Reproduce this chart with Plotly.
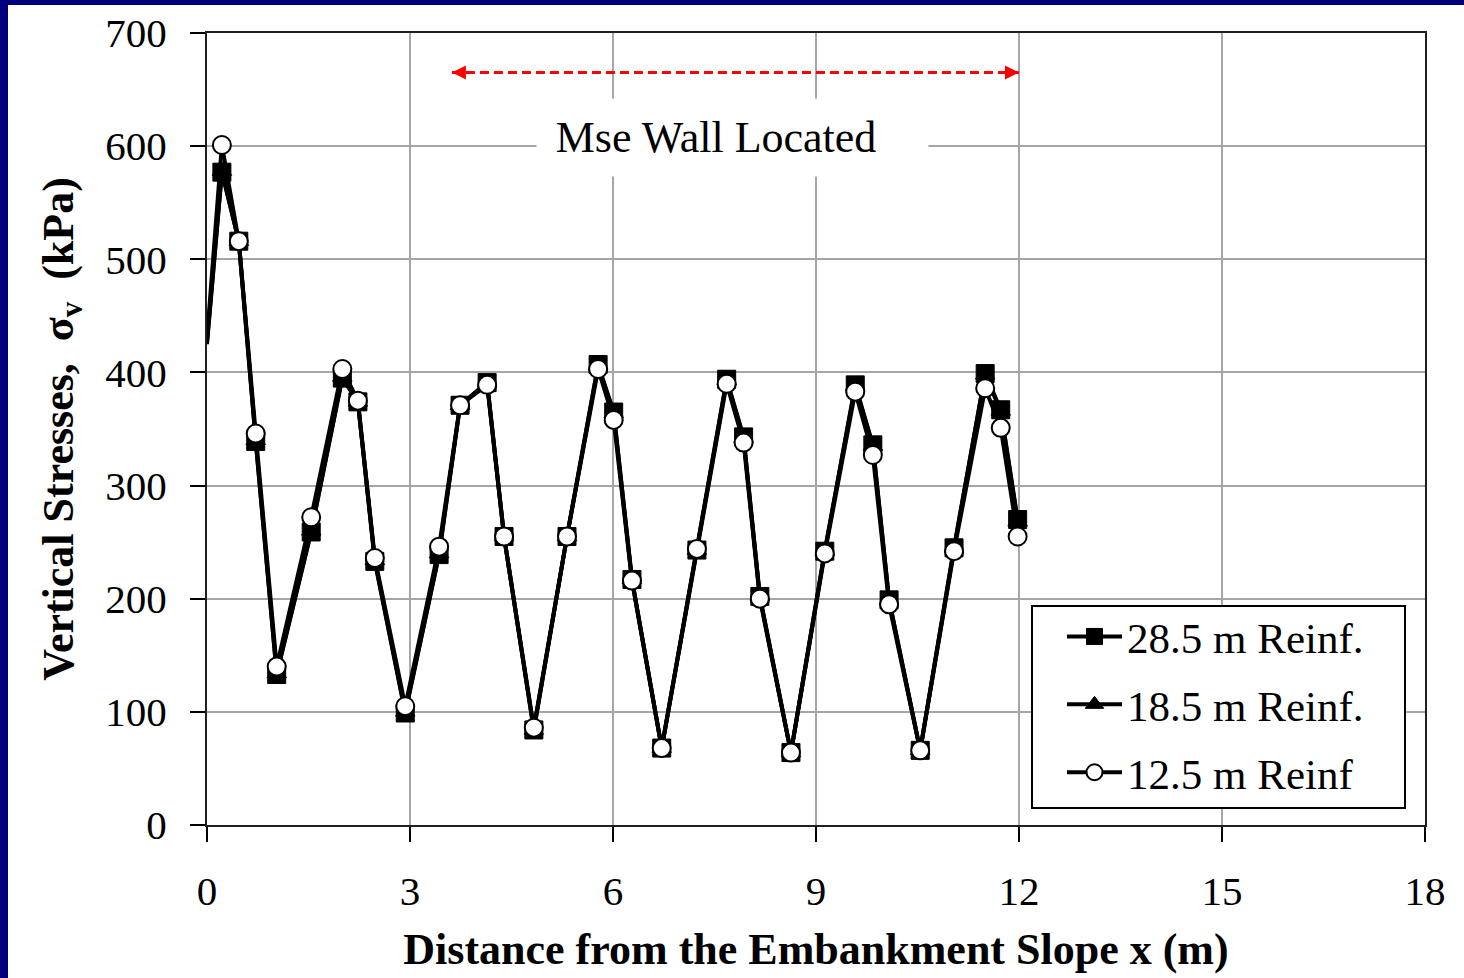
import plotly.graph_objects as go

# ---- data ----
x_m = [0.0, 0.22, 0.47, 0.72, 1.03, 1.54, 2.00, 2.23, 2.48, 2.93, 3.43, 3.74, 4.14, 4.39,
       4.83, 5.32, 5.78, 6.01, 6.28, 6.72, 7.24, 7.68, 7.93, 8.17, 8.63, 9.13, 9.58, 9.84,
       10.08, 10.54, 11.04, 11.50, 11.73, 11.98]

reinf_28_5 = [425, 577, 516, 339, 133, 259, 395, 374, 233, 99, 239, 371, 391, 255,
              84, 255, 407, 365, 217, 68, 243, 394, 343, 202, 64, 242, 389, 336,
              199, 66, 245, 399, 367, 270]

reinf_18_5 = [427, 578, 516, 340, 134, 260, 396, 374, 234, 100, 240, 371, 391, 255,
              84, 255, 406, 364, 217, 68, 243, 393, 342, 202, 64, 242, 388, 335,
              199, 66, 245, 398, 366, 268]

reinf_12_5 = [430, 601, 516, 346, 140, 272, 403, 375, 236, 105, 246, 371, 389, 255,
              86, 255, 403, 358, 216, 68, 244, 390, 338, 200, 64, 240, 383, 327,
              195, 66, 242, 386, 351, 255]

series_names = ["28.5 m Reinf.", "18.5 m Reinf.", "12.5 m Reinf"]

wall_x = [3.62, 12.0]
wall_arrow_y = [665, 665]
wall_label = "Mse Wall Located"
wall_label_x, wall_label_y = 7.77, 608

x_ticks = [0, 3, 6, 9, 12, 15, 18]
y_ticks = [0, 100, 200, 300, 400, 500, 600, 700]

FONT = "Liberation Serif"

fig = go.Figure()

styles = [
    dict(symbol="square", size=18, color="black", line=dict(color="black", width=1)),
    dict(symbol="triangle-up", size=17, color="black", line=dict(color="black", width=1)),
    dict(symbol="circle", size=18, color="white", line=dict(color="black", width=2)),
]
for name, ys, mk, grp in zip(series_names, [reinf_28_5, reinf_18_5, reinf_12_5], styles, "abc"):
    # first segment from the slope toe (x = 0) is drawn without a marker
    fig.add_trace(go.Scatter(x=x_m[:2], y=ys[:2], mode="lines", showlegend=False,
                             line=dict(color="black", width=4), legendgroup=grp,
                             hoverinfo="skip"))
    fig.add_trace(go.Scatter(x=x_m[1:], y=ys[1:], name=name, mode="lines+markers",
                             line=dict(color="black", width=4), marker=mk, legendgroup=grp))

# red dashed double arrow showing wall extent
fig.add_trace(go.Scatter(x=wall_x, y=wall_arrow_y, mode="lines+markers", showlegend=False,
                         line=dict(color="red", width=3, dash="9px,5px"),
                         marker=dict(symbol=["arrow-left", "arrow-right"], size=14, color="red",
                                     line=dict(width=0)),
                         hoverinfo="skip"))

# wall label on a white box (box wider on the right, as in the original)
fig.add_annotation(x=wall_label_x, y=wall_label_y,
                   text=wall_label + "&nbsp;&nbsp;&nbsp;", showarrow=False,
                   font=dict(family=FONT, size=44, color="black"),
                   bgcolor="white", borderpad=13, width=365, height=51, align="center")

W, H = 1464, 978
L, R, T, B = 207, W - 1425, 33, H - 825
pw, ph = W - L - R, H - T - B


def px_x(p):
    return (p - L) / pw


def px_y(p):
    return (H - B - p) / ph


# dark-blue frame of the slide image (left and top bands)
fig.add_shape(type="rect", xref="paper", yref="paper",
              x0=px_x(0), x1=px_x(8), y0=px_y(H), y1=px_y(0),
              fillcolor="#00007f", line=dict(width=0), layer="below")
fig.add_shape(type="rect", xref="paper", yref="paper",
              x0=px_x(0), x1=px_x(W), y0=px_y(5), y1=px_y(0),
              fillcolor="#00007f", line=dict(width=0), layer="below")
# legend frame
fig.add_shape(type="rect", xref="paper", yref="paper",
              x0=px_x(1032), x1=px_x(1405), y0=px_y(808), y1=px_y(606),
              fillcolor="white", line=dict(color="black", width=2), layer="above")

axis_common = dict(
    showline=True, linecolor="#202020", linewidth=2, mirror=True,
    ticks="outside", ticklen=15, tickwidth=2, tickcolor="black",
    showgrid=True, gridcolor="#a6a6a6", gridwidth=2, zeroline=False,
    tickfont=dict(family=FONT, size=41, color="black"),
)

fig.update_xaxes(range=[0, 18], tickvals=x_ticks, ticktext=[str(v) for v in x_ticks],
                 ticklabelstandoff=14,
                 title=dict(text="<b>Distance from the Embankment Slope x (m)</b>",
                            font=dict(family=FONT, size=44, color="black"), standoff=20),
                 **axis_common)
fig.update_yaxes(range=[0, 700], tickvals=y_ticks, ticktext=[str(v) for v in y_ticks],
                 ticklabelstandoff=15,
                 title=dict(text="<b>Vertical Stresses,  σ<sub>v</sub>  (kPa)</b>",
                            font=dict(family=FONT, size=44, color="black"), standoff=18),
                 **axis_common)

fig.update_layout(
    width=W, height=H,
    margin=dict(l=L, r=R, t=T, b=B, autoexpand=False),
    paper_bgcolor="white", plot_bgcolor="white",
    showlegend=True,
    legend=dict(x=px_x(1062), y=px_y(602), xanchor="left", yanchor="top",
                bgcolor="rgba(0,0,0,0)", borderwidth=0,
                font=dict(family=FONT, size=43, color="black"),
                tracegroupgap=9, itemwidth=55),
)

fig.write_html("out.html", config={"displayModeBar": False},
               post_script="document.body.style.margin='0';")
